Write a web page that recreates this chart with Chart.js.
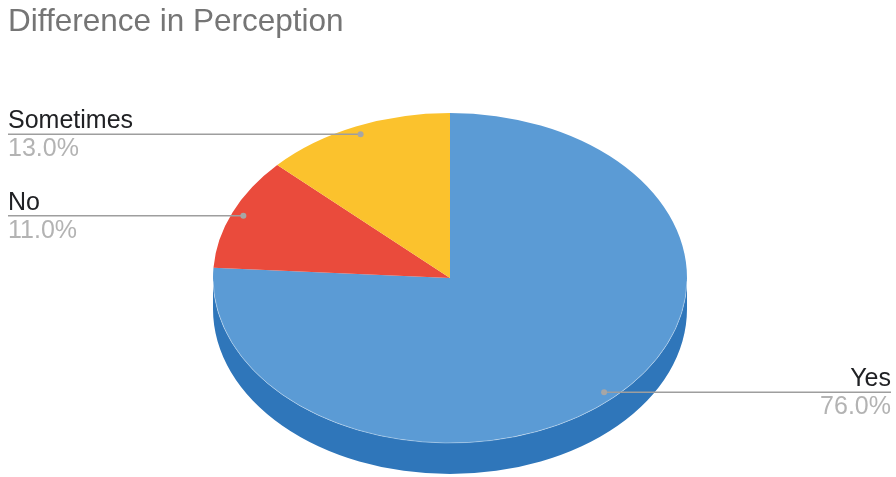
<!DOCTYPE html>
<html>
<head>
<meta charset="utf-8">
<script src="https://cdn.jsdelivr.net/npm/chart.js@4.4.0/dist/chart.umd.min.js"></script>
<style>
  html, body { margin: 0; padding: 0; background: #fff; }
  #wrap { width: 896px; height: 477px; }
</style>
</head>
<body>
<div id="wrap"><canvas id="perceptionPie"></canvas></div>
<script>
const categories = ["Yes", "No", "Sometimes"];
const shares = [76.0, 11.0, 13.0];
const sliceColors = ["#5b9bd5", "#ea4b3c", "#fbc22d"];
const sideColors = ["#2f76ba", "#c23a2c", "#d8a21c"];

// where the tilted pie sits: top-face ellipse plus wall height
const tilt = { cx: 450, cy: 278, rx: 237, ry: 165, depth: 31 };
const FONT = "'Liberation Sans', Arial, sans-serif";

// draws the front wall, then squashes the round pie into the top face
const tiltPlugin = {
  id: "tilt3d",
  beforeDatasetsDraw(chart) {
    const ctx = chart.ctx;
    const arcs = chart.getDatasetMeta(0).data;
    arcs.forEach((arc, i) => {
      const s = arc.startAngle, e = arc.endAngle;
      for (let k = -1; k <= 1; k++) {
        const a0 = Math.max(s, 2 * Math.PI * k);
        const a1 = Math.min(e, 2 * Math.PI * k + Math.PI);
        if (a1 <= a0) continue;
        ctx.beginPath();
        ctx.ellipse(tilt.cx, tilt.cy, tilt.rx, tilt.ry, 0, a0, a1);
        ctx.ellipse(tilt.cx, tilt.cy + tilt.depth, tilt.rx, tilt.ry, 0, a1, a0, true);
        ctx.closePath();
        ctx.fillStyle = sideColors[i];
        ctx.fill();
      }
    });
    const { x, y, outerRadius } = arcs[0];
    ctx.save();
    ctx.translate(tilt.cx, tilt.cy);
    ctx.scale(tilt.rx / outerRadius, tilt.ry / outerRadius);
    ctx.translate(-x, -y);
  },
  afterDatasetsDraw(chart) {
    const ctx = chart.ctx;
    ctx.restore();
    // faint highlight where the top face meets the wall
    ctx.save();
    ctx.strokeStyle = "rgba(255,255,255,0.35)";
    ctx.lineWidth = 1;
    ctx.beginPath();
    ctx.ellipse(tilt.cx, tilt.cy, tilt.rx, tilt.ry, 0, 0.02, Math.PI - 0.02);
    ctx.stroke();
    ctx.restore();
  }
};

// leader lines with category name above and percentage below
const calloutPlugin = {
  id: "callouts",
  afterDraw(chart) {
    const ctx = chart.ctx;
    const arcs = chart.getDatasetMeta(0).data;
    arcs.forEach((arc, i) => {
      const mid = (arc.startAngle + arc.endAngle) / 2;
      const px = tilt.cx + 0.95 * tilt.rx * Math.cos(mid);
      const py = tilt.cy + 0.95 * tilt.ry * Math.sin(mid);
      const right = Math.cos(mid) > 0;
      const edge = right ? chart.width - 5 : 8;

      ctx.save();
      ctx.strokeStyle = "#9e9e9e";
      ctx.lineWidth = 1.5;
      ctx.beginPath();
      ctx.moveTo(edge, py);
      ctx.lineTo(px, py);
      ctx.stroke();
      ctx.fillStyle = "#a6a6a6";
      ctx.beginPath();
      ctx.arc(px, py, 3, 0, Math.PI * 2);
      ctx.fill();

      ctx.textAlign = right ? "right" : "left";
      ctx.textBaseline = "alphabetic";
      ctx.font = "25px " + FONT;
      ctx.fillStyle = "#202124";
      ctx.fillText(categories[i], edge, py - 6);
      ctx.fillStyle = "#b3b3b3";
      ctx.fillText(shares[i].toFixed(1) + "%", edge, py + 22);
      ctx.restore();
    });
  }
};

new Chart(document.getElementById("perceptionPie"), {
  type: "pie",
  data: {
    labels: categories,
    datasets: [{
      data: shares,
      backgroundColor: sliceColors,
      borderWidth: 0
    }]
  },
  options: {
    responsive: true,
    maintainAspectRatio: false,
    animation: false,
    events: [],
    layout: { padding: { left: 8, top: 0 } },
    plugins: {
      legend: { display: false },
      tooltip: { enabled: false },
      title: {
        display: true,
        text: "Difference in Perception",
        align: "start",
        color: "#757575",
        font: { family: FONT, size: 31.5, weight: "normal" },
        padding: { top: 3, bottom: 0 }
      }
    }
  },
  plugins: [tiltPlugin, calloutPlugin]
});
</script>
</body>
</html>
